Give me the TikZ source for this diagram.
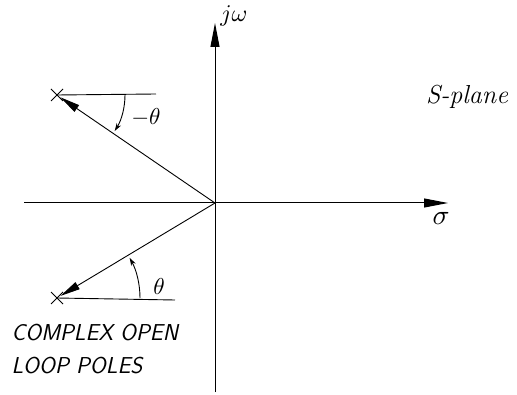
\documentclass[tikz,border=0pt]{standalone}
\usepackage{graphicx}
\usepackage{fontspec}
\usetikzlibrary{arrows.meta,shapes.misc}
\begin{document}
\begin{tikzpicture}[x=1pt,y=1pt,
  axis/.style={line width=1pt,-{Triangle[length=24pt,width=9pt]}},
  polearrow/.style={line width=0.9pt,-{Triangle[length=20pt,width=8pt]},shorten >=4pt},
  ref/.style={line width=0.9pt},
  anglearc/.style={line width=0.9pt,-{Stealth[length=8pt,width=5pt]}},
  pole/.style={cross out,draw,line width=1pt,minimum size=11pt,inner sep=0pt},
  lab/.style={},
  caps/.style={font=\fontsize{23}{25}\selectfont\sffamily\slshape,anchor=west}]
\useasboundingbox (0,0) rectangle (517,394);
\coordinate (O) at (215,191);
\coordinate (vbot) at (215,2);
\coordinate (vtop) at (215,371);
\coordinate (hl) at (24,191);
\coordinate (hr) at (448,191);
\node[pole] (p1) at (57,299) {};
\node[pole] (p2) at (57,96) {};
\coordinate (r1) at (156,300);
\coordinate (r2) at (175,94);
% axes
\draw[axis] (vbot) -- (vtop);
\draw[axis] (hl) -- (hr);
% pole lines
\draw[polearrow] (O) -- (p1.center);
\draw[polearrow] (O) -- (p2.center);
\draw[ref] (p1.center) -- (r1);
\draw[ref] (p2.center) -- (r2);
% angle arcs
\draw[anglearc] ([shift={(0:68)}]p1.center) arc[start angle=0,end angle=-32,radius=68];
\draw[anglearc] ([shift={(0:83)}]p2.center) arc[start angle=0,end angle=29,radius=83];
% labels
\node[lab] (jw) at (234,378) {\scalebox{2.4}{$j\omega$}};
\node[lab] (sig) at (441,176) {\scalebox{2.8}{$\sigma$}};
\node[lab,font=\fontsize{26}{28}\selectfont\itshape] (sp) at (467,297) {S-plane};
\node[lab] (mth) at (146,277) {\scalebox{2.3}{$-\theta$}};
\node[lab] (th) at (159,107) {\scalebox{2.3}{$\theta$}};
\node[caps] (c1) at (8,61) {COMPLEX OPEN};
\node[caps] (c2) at (8,28) {LOOP POLES};
\end{tikzpicture}
\end{document}
